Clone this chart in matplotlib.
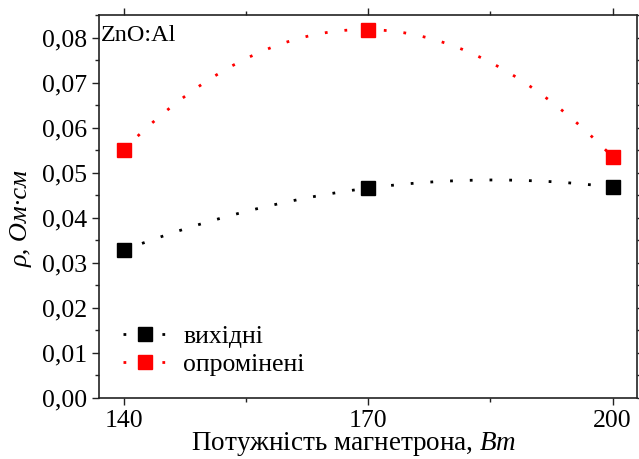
import numpy as np
import matplotlib
matplotlib.use("Agg")
import matplotlib.pyplot as plt
from matplotlib.ticker import MultipleLocator, FixedLocator, FuncFormatter

plt.rcParams['font.family'] = ['Liberation Serif', 'DejaVu Serif']
plt.rcParams['mathtext.fontset'] = 'custom'
plt.rcParams['mathtext.it'] = 'Liberation Serif:italic'
plt.rcParams['mathtext.rm'] = 'Liberation Serif'

power = [140, 170, 200]
rho_initial = [0.0328, 0.0466, 0.0468]
rho_irradiated = [0.0551, 0.0818, 0.0535]
labels = ["вихідні", "опромінені"]
colors = ["black", "#ff0000"]

fig = plt.figure(figsize=(6.39, 4.59), dpi=100)
ax = fig.add_axes([0.155, 0.133, 0.842, 0.834])

xs = np.linspace(power[0], power[-1], 200)
for ys, lab, c in [(rho_initial, labels[0], colors[0]), (rho_irradiated, labels[1], colors[1])]:
    coef = np.polyfit(power, ys, 2)
    ax.plot(xs, np.polyval(coef, xs), color=c, lw=2, linestyle=(0, (1, 6.1)))
    ax.plot(power, ys, linestyle='none', marker='s', ms=9.5, color=c)
    ax.plot([], [], color=c, lw=2, linestyle=(0, (1, 6.0)), marker='s', ms=9.5, label=lab)

ax.set_xlim(137, 203)
ax.set_ylim(0, 0.085)
ax.xaxis.set_major_locator(FixedLocator(power))
ax.xaxis.set_minor_locator(FixedLocator([155, 185]))
ax.yaxis.set_major_locator(MultipleLocator(0.01))
ax.yaxis.set_minor_locator(MultipleLocator(0.005))
ax.yaxis.set_major_formatter(FuncFormatter(lambda v, p: f"{v:.2f}".replace('.', ',')))
ax.tick_params(which='both', direction='out', top=True, right=True, labelsize=18.5, colors='#222222', labelcolor='black')
ax.tick_params(which='major', length=5, width=1)
ax.tick_params(which='minor', length=3, width=1)
for s in ax.spines.values():
    s.set_linewidth(1.2)
    s.set_color('#222222')

ax.set_xlabel("Потужність магнетрона, $\\mathit{Вт}$", fontsize=19.5)
ax.xaxis.set_label_coords(0.474, -0.085, transform=ax.transAxes)
ax.set_ylabel("ρ, Ом·см", fontsize=19, fontstyle='italic')
ax.yaxis.set_label_coords(-0.123, 0.47, transform=ax.transAxes)
ax.text(0.004, 0.975, "ZnO:Al", transform=ax.transAxes, fontsize=17.5, va='top', ha='left')

leg = ax.legend(loc='lower left', bbox_to_anchor=(0.044, 0.058), borderaxespad=0, borderpad=0,
                frameon=False, fontsize=18.5,
                handlelength=1.75, handletextpad=0.6, labelspacing=0.2)

fig.savefig("out.png", dpi=100)
